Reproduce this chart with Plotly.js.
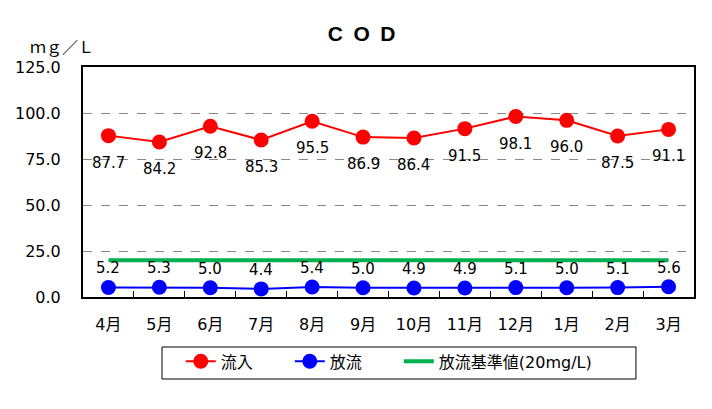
<!DOCTYPE html>
<html>
<head>
<meta charset="utf-8">
<script src="https://cdn.plot.ly/plotly-3.0.1.min.js"></script>
<style>
  html, body { margin: 0; padding: 0; background: #fff; }
  #cod-chart { width: 712px; height: 409px; }
</style>
</head>
<body>
<div id="cod-chart"></div>
<script>
// Data
const months = ['4月', '5月', '6月', '7月', '8月', '9月', '10月', '11月', '12月', '1月', '2月', '3月'];
const inflow = [87.7, 84.2, 92.8, 85.3, 95.5, 86.9, 86.4, 91.5, 98.1, 96.0, 87.5, 91.1];
const outflow = [5.2, 5.3, 5.0, 4.4, 5.4, 5.0, 4.9, 4.9, 5.1, 5.0, 5.1, 5.6];
const standard = [20, 20, 20, 20, 20, 20, 20, 20, 20, 20, 20, 20];

const FONT = 'DejaVu Sans, Noto Sans CJK JP, sans-serif';

let inflowTrace = {
    x: months,
    y: inflow,
    name: '流入　　',
    type: 'scatter',
    mode: 'lines+markers',
    line: { color: '#ff0000', width: 2 },
    marker: { color: '#ff0000', size: 15 }
}

let outflowTrace = {
    x: months,
    y: outflow,
    name: '放流　　',
    type: 'scatter',
    mode: 'lines+markers',
    line: { color: '#0000ff', width: 2 },
    marker: { color: '#0000ff', size: 15 }
}

let standardTrace = {
    x: months,
    y: standard,
    name: '放流基準値(20mg/L)',
    type: 'scatter',
    mode: 'lines',
    line: { color: '#00b050', width: 4 }
}

let data = [inflowTrace, outflowTrace, standardTrace];

// Value labels: inflow below the points, outflow above
let annotations = [];
for (let i in months) {
    annotations.push({
        x: months[i],
        y: inflow[i],
        text: inflow[i].toFixed(1),
        showarrow: false,
        yshift: -27,
        font: { size: 15 }
    })
    annotations.push({
        x: months[i],
        y: outflow[i],
        text: outflow[i].toFixed(1),
        showarrow: false,
        yshift: 19,
        font: { size: 15 }
    })
}
annotations.push({
    text: 'ｍｇ／Ｌ',
    showarrow: false,
    xref: 'paper',
    yref: 'paper',
    x: -0.035,
    y: 1.09,
    xanchor: 'center',
    yanchor: 'middle',
    font: { size: 16, family: 'Noto Sans CJK JP, sans-serif' }
})

// Legend frame, drawn as a paper shape so it can be wider than the items
let shapes = [{
    type: 'rect',
    xref: 'paper',
    yref: 'paper',
    x0: 0.1293,
    x1: 0.905,
    y0: -0.3565,
    y1: -0.2174,
    line: { color: '#000', width: 1 },
    fillcolor: 'rgba(0,0,0,0)'
}];

// Layout of the chart
let layout = {
    width: 712,
    height: 409,
    paper_bgcolor: '#fff',
    plot_bgcolor: '#fff',
    font: { family: FONT, size: 16, color: '#000' },
    margin: { l: 83, r: 18, t: 67, b: 112 },
    title: {
        text: '<b>C\u2002O\u2002D</b>',
        font: { size: 21, family: 'Arial, Liberation Sans, sans-serif' },
        x: 0.508,
        xanchor: 'center',
        y: 0.918,
        yanchor: 'middle'
    },
    showlegend: true,
    legend: {
        orientation: 'h',
        x: 0.160,
        xanchor: 'left',
        y: -0.206,
        yanchor: 'top',
        bgcolor: 'rgba(0,0,0,0)',
        borderwidth: 0,
        font: { size: 16 },
        itemclick: false
    },
    shapes: shapes,
    annotations: annotations,
    xaxis: {
        type: 'category',
        range: [-0.5, months.length - 0.5],
        showline: true,
        linecolor: '#000',
        linewidth: 2,
        mirror: true,
        showgrid: false,
        ticks: 'inside',
        tickson: 'boundaries',
        ticklen: 6,
        tickcolor: '#000',
        ticklabelstandoff: 12,
        tickfont: { size: 16 }
    },
    yaxis: {
        range: [0, 125],
        tickvals: [0, 25, 50, 75, 100, 125],
        ticktext: ['0.0', '25.0', '50.0', '75.0', '100.0', '125.0'],
        showline: true,
        linecolor: '#000',
        linewidth: 2,
        mirror: true,
        showgrid: true,
        gridcolor: '#888',
        griddash: 'dash',
        gridwidth: 1,
        zeroline: false,
        ticks: '',
        ticklabelstandoff: 17,
        tickfont: { size: 16 }
    }
}

// General chart configuration
let config = {
    displayModeBar: false,
    responsive: false
}

let htmlElement = document.getElementById('cod-chart');
htmlElement.innerHTML = '';
Plotly.newPlot(htmlElement, data, layout, config);
</script>
</body>
</html>
